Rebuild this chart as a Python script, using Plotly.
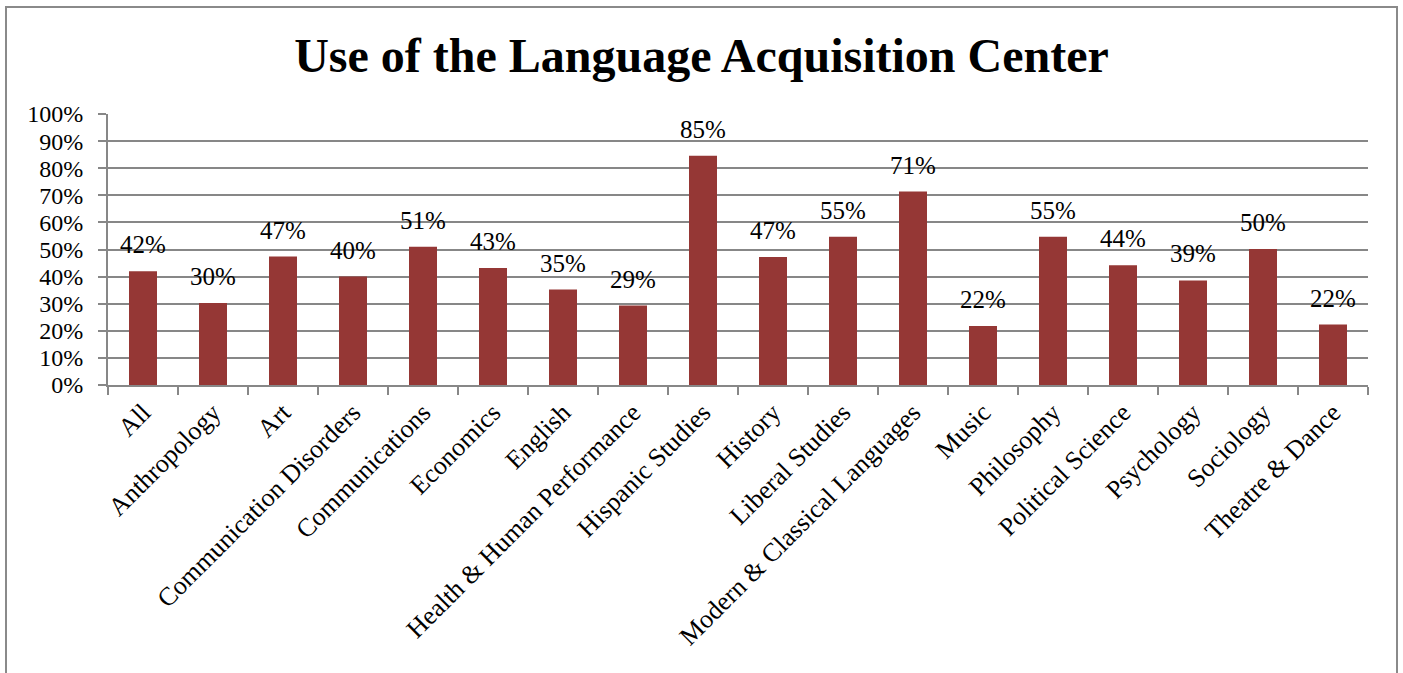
import plotly.graph_objects as go

# departments and share of students using the center
departments = ["All", "Anthropology", "Art", "Communication Disorders", "Communications",
               "Economics", "English", "Health & Human Performance", "Hispanic Studies",
               "History", "Liberal Studies", "Modern & Classical Languages", "Music",
               "Philosophy", "Political Science", "Psychology", "Sociology", "Theatre & Dance"]
usage = [0.42, 0.303, 0.474, 0.40, 0.51, 0.432, 0.352, 0.293, 0.846,
         0.472, 0.547, 0.714, 0.218, 0.547, 0.442, 0.386, 0.502, 0.223]
y_ticks = [i / 10 for i in range(11)]

FONT = "Liberation Serif, Times New Roman, serif"
GRID = "#878787"

fig = go.Figure()
fig.add_trace(go.Bar(x=departments, y=usage, marker_color="#953735",
                     marker_line_width=0, showlegend=False))

# data labels sit a bit above each bar, Excel style
for d, v in zip(departments, usage):
    fig.add_annotation(x=d, y=v, text=f"{round(v * 100)}%", showarrow=False,
                       yanchor="bottom", yshift=11,
                       font=dict(family=FONT, size=25, color="black"))

W, H = 1403, 673
L, R, T, B = 108, 35, 114, 288
pw, ph = W - L - R, H - T - B

# chart border
fig.add_shape(type="rect", xref="paper", yref="paper",
              x0=(6 - L) / pw, x1=(1397 - L) / pw,
              y0=-(B + 20) / ph, y1=1 + (T - 7) / ph,
              line=dict(color="#8a8a8a", width=2), layer="below")

fig.update_layout(
    width=W, height=H,
    margin=dict(l=L, r=R, t=T, b=B, autoexpand=False),
    paper_bgcolor="white", plot_bgcolor="white",
    bargap=0.6,
    title=dict(text="<b>Use of the Language Acquisition Center</b>",
               x=0.5, xref="container", xanchor="center",
               y=1 - 55 / H, yref="container", yanchor="middle",
               font=dict(family=FONT, size=48, color="black")),
    font=dict(family=FONT, size=24, color="black"),
)
fig.update_xaxes(tickangle=-45, showline=True, linecolor=GRID, linewidth=2,
                 ticks="outside", tickson="boundaries", ticklen=8, tickcolor=GRID,
                 tickwidth=2, showgrid=False, tickfont=dict(size=26))
fig.update_yaxes(range=[0, 1], tickvals=y_ticks, tickformat=".0%",
                 showgrid=True, gridcolor=GRID, gridwidth=2,
                 showline=True, linecolor=GRID, linewidth=2,
                 ticks="outside", ticklen=8, tickcolor=GRID, tickwidth=2,
                 ticklabelstandoff=10, zeroline=False, tickfont=dict(size=24))

fig.write_html("out.html", config={"displayModeBar": False},
               post_script="document.body.style.margin='0';")
